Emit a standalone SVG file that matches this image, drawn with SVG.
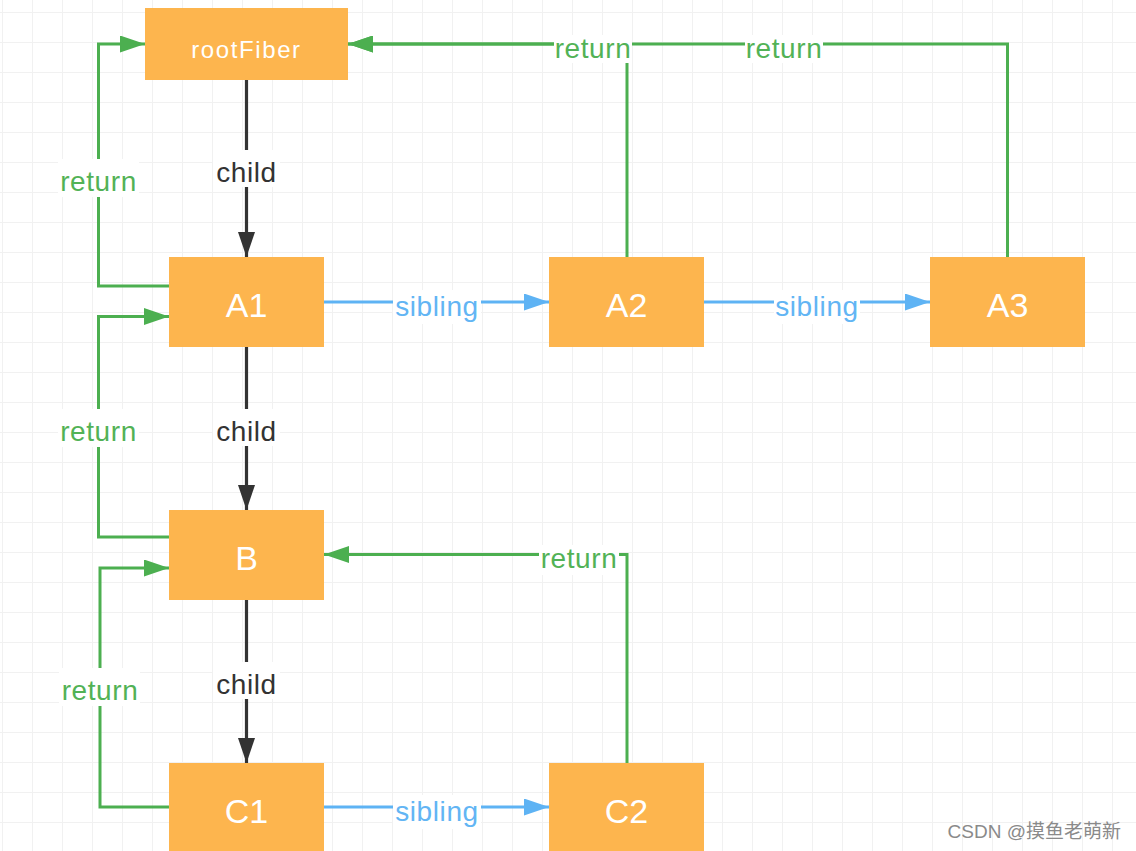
<svg xmlns="http://www.w3.org/2000/svg" width="1136" height="851" viewBox="0 0 1136 851">
<style>
.node rect{fill:#FDB54E}
.node text{fill:#fff;font-family:"Liberation Sans",Arial,sans-serif;text-anchor:middle}
.big{font-size:34px}
.lbl{font-family:"Liberation Sans",Arial,sans-serif;font-size:28px;text-anchor:middle;letter-spacing:0.6px}
.bg{fill:#fff}
.child{stroke:#333;stroke-width:3.2;fill:none}
.ret{stroke:#4CAF50;stroke-width:3;fill:none}
.sib{stroke:#5EB3F4;stroke-width:3;fill:none}
.tc{fill:#333}
.tr{fill:#52b256}
.ts{fill:#62b5f4}
</style>
<defs>
<pattern id="grid" patternUnits="userSpaceOnUse" x="2" y="12" width="30" height="30">
<path d="M0,0.5H30M0.5,0V30" stroke="#f1f1f1" stroke-width="1" fill="none"/>
</pattern>
<marker id="ab" markerUnits="userSpaceOnUse" markerWidth="25" markerHeight="17" refX="25" refY="8.5" orient="auto"><path d="M0,0L25,8.5L0,17z" fill="#333"/></marker>
<marker id="ag" markerUnits="userSpaceOnUse" markerWidth="25" markerHeight="17" refX="25" refY="8.5" orient="auto"><path d="M0,0L25,8.5L0,17z" fill="#4CAF50"/></marker>
<marker id="as" markerUnits="userSpaceOnUse" markerWidth="25" markerHeight="17" refX="25" refY="8.5" orient="auto"><path d="M0,0L25,8.5L0,17z" fill="#5EB3F4"/></marker>
</defs>
<rect width="1136" height="851" fill="#fff"/>
<rect width="1136" height="851" fill="url(#grid)"/>

<g id="connectors">
<path class="child" d="M246.5,80V257" marker-end="url(#ab)"/>
<path class="child" d="M246.5,347V510" marker-end="url(#ab)"/>
<path class="child" d="M246.5,600V763" marker-end="url(#ab)"/>
<path class="ret" d="M169,286H98.5V44H145" marker-end="url(#ag)"/>
<path class="ret" d="M169,537H98.5V316.5H169" marker-end="url(#ag)"/>
<path class="ret" d="M169,807H100V568H169" marker-end="url(#ag)"/>
<path class="ret" d="M627,257V44H348" marker-end="url(#ag)"/>
<path class="ret" d="M1007.5,257V44H348" marker-end="url(#ag)"/>
<path class="ret" d="M627,763V554.5H324" marker-end="url(#ag)"/>
<path class="sib" d="M324,302H549" marker-end="url(#as)"/>
<path class="sib" d="M704,302H930" marker-end="url(#as)"/>
<path class="sib" d="M324,807H549" marker-end="url(#as)"/>
<rect class="bg" x="213" y="150" width="67" height="37"/>
<text class="lbl tc" x="246.5" y="182">child</text>
<rect class="bg" x="213" y="409" width="67" height="37"/>
<text class="lbl tc" x="246.5" y="441">child</text>
<rect class="bg" x="213" y="662" width="67" height="37"/>
<text class="lbl tc" x="246.5" y="694">child</text>
<rect class="bg" x="58" y="159" width="81" height="38"/>
<text class="lbl tr" x="98.5" y="191">return</text>
<rect class="bg" x="58" y="409" width="81" height="38"/>
<text class="lbl tr" x="98.5" y="441">return</text>
<rect class="bg" x="59" y="668" width="81" height="38"/>
<text class="lbl tr" x="100" y="700">return</text>
<rect class="bg" x="554" y="35" width="78" height="28"/>
<text class="lbl tr" x="593" y="58">return</text>
<rect class="bg" x="745" y="35" width="78" height="28"/>
<text class="lbl tr" x="784" y="58">return</text>
<rect class="bg" x="539" y="545" width="80" height="30"/>
<text class="lbl tr" x="579" y="568">return</text>
<rect class="bg" x="393" y="290" width="88" height="34"/>
<text class="lbl ts" x="437" y="315.5">sibling</text>
<rect class="bg" x="774" y="290" width="86" height="34"/>
<text class="lbl ts" x="817" y="315.5">sibling</text>
<rect class="bg" x="393" y="795" width="88" height="34"/>
<text class="lbl ts" x="437" y="820.5">sibling</text>
</g>

<g id="rootFiber" class="node"><rect x="145" y="8" width="203" height="72"/><text x="246.5" y="58" font-size="24" letter-spacing="1.6">rootFiber</text></g>
<g id="A1" class="node"><rect x="169" y="257" width="155" height="90"/><text class="big" x="246.5" y="317">A1</text></g>
<g id="A2" class="node"><rect x="549" y="257" width="155" height="90"/><text class="big" x="626.5" y="317">A2</text></g>
<g id="A3" class="node"><rect x="930" y="257" width="155" height="90"/><text class="big" x="1007.5" y="317">A3</text></g>
<g id="B" class="node"><rect x="169" y="510" width="155" height="90"/><text class="big" x="246.5" y="570">B</text></g>
<g id="C1" class="node"><rect x="169" y="763" width="155" height="90"/><text class="big" x="246.5" y="823">C1</text></g>
<g id="C2" class="node"><rect x="549" y="763" width="155" height="90"/><text class="big" x="626.5" y="823">C2</text></g>

<text x="1121" y="838" font-family="'Liberation Sans','Noto Sans CJK SC',sans-serif" font-size="19" fill="#8a8a8a" text-anchor="end">CSDN @摸鱼老萌新</text>
</svg>
